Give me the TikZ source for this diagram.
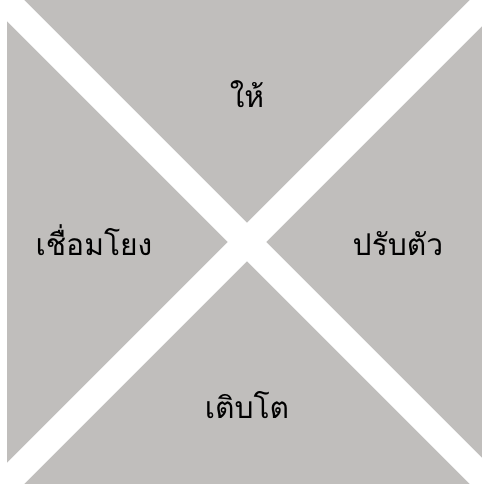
\documentclass[tikz,border=0pt]{standalone}
\usepackage{fontspec}
\newfontfamily\thaifont[Script=Thai]{Loma}
\definecolor{panel}{RGB}{192,190,188}
\tikzset{lbl/.style={font=\thaifont\fontsize{30}{36}\selectfont, text=black, anchor=base, inner sep=0pt}}
\begin{document}
\begin{tikzpicture}[x=1pt,y=-1pt]
\useasboundingbox (0,0) rectangle (482,484);
\fill[white] (0,0) rectangle (482,484);
\begin{scope}
\clip (7,0) rectangle (482,484);
\fill[panel] (7,0) rectangle (482,484);
\coordinate (c) at (247,242);
\coordinate (tl) at (-10,-15);
\coordinate (br) at (504,499);
\coordinate (tr) at (504,-15);
\coordinate (bl) at (-10,499);
\draw[white, line width=27pt] (tl) -- (br);
\draw[white, line width=27pt] (tr) -- (bl);
\end{scope}
\node[lbl] (top) at (247,107) {ให้};
\node[lbl] (left) at (94,255) {เชื่อมโยง};
\node[lbl] (right) at (398,255) {ปรับตัว};
\node[lbl] (bottom) at (247,418) {เติบโต};
\end{tikzpicture}
\end{document}
